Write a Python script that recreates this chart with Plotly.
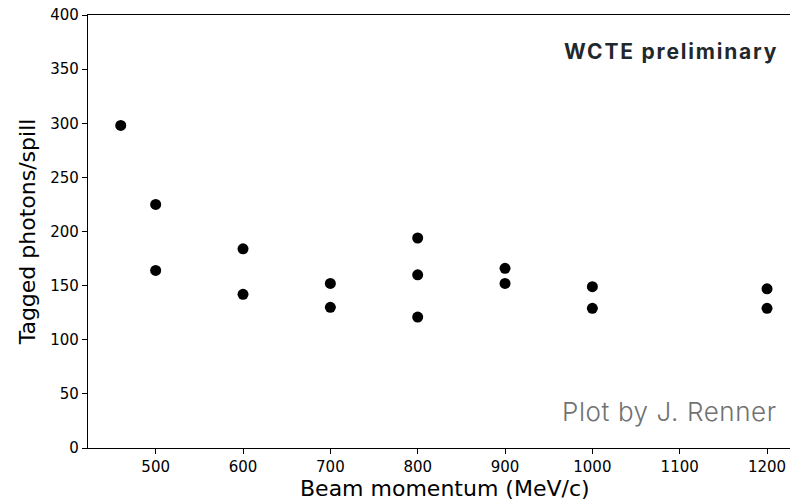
import plotly.graph_objects as go

# Beam momentum (MeV/c) and tagged photons per spill, one entry per run
momentum = [460, 500, 500, 600, 600, 700, 700, 800, 800, 800, 900, 900, 1000, 1000, 1200, 1200]
photons_per_spill = [298, 225, 164, 184, 142, 152, 130, 194, 160, 121, 166, 152, 149, 129, 147, 129]

x_ticks = [500, 600, 700, 800, 900, 1000, 1100, 1200]
y_ticks = [0, 50, 100, 150, 200, 250, 300, 350, 400]

fig = go.Figure()
fig.add_trace(go.Scatter(
    x=momentum,
    y=photons_per_spill,
    mode="markers",
    marker=dict(color="black", size=11, line=dict(width=0)),
    showlegend=False,
    hoverinfo="x+y",
))

axis_font = dict(family="DejaVu Sans", size=15, color="black")
title_font = dict(family="DejaVu Sans", size=22, color="black")

fig.update_xaxes(
    range=[422.5, 1226.3],
    tickvals=x_ticks,
    ticktext=[str(v) for v in x_ticks],
    ticks="outside", ticklen=5, tickwidth=1.2, tickcolor="black",
    showline=True, linecolor="black", linewidth=1.2, mirror=True,
    showgrid=False, zeroline=False,
    tickfont=axis_font,
)
fig.update_yaxes(
    range=[0, 400],
    tickvals=y_ticks,
    ticktext=[str(v) for v in y_ticks],
    ticks="outside", ticklen=5, tickwidth=1.2, tickcolor="black",
    showline=True, linecolor="black", linewidth=1.2, mirror=False,
    showgrid=False, zeroline=False,
    tickfont=axis_font,
    title=dict(text="Tagged photons/spill", font=title_font, standoff=8),
)

# x-axis title, centred slightly right of the plotting area
fig.add_annotation(
    text="Beam momentum (MeV/c)",
    xref="paper", yref="paper", x=0.508, y=-0.093,
    xanchor="center", yanchor="middle", showarrow=False,
    font=title_font,
)

fig.add_annotation(
    text='<span style="letter-spacing:1.8px"><b>WCTE preliminary</b></span>',
    xref="paper", yref="paper", x=0.986, y=0.915,
    xanchor="right", yanchor="middle", showarrow=False,
    font=dict(family="Inter", size=21, color="#1f292d"),
)
fig.add_annotation(
    text='<span style="letter-spacing:0.6px">Plot by J. Renner</span>',
    xref="paper", yref="paper", x=0.984, y=0.085,
    xanchor="right", yanchor="middle", showarrow=False,
    font=dict(family="Inter", size=26, color="#717171", weight=300),
)

fig.update_layout(
    width=790, height=501,
    margin=dict(l=88, r=0, t=15, b=53),
    paper_bgcolor="white", plot_bgcolor="white",
)

fig.write_html("out.html")
